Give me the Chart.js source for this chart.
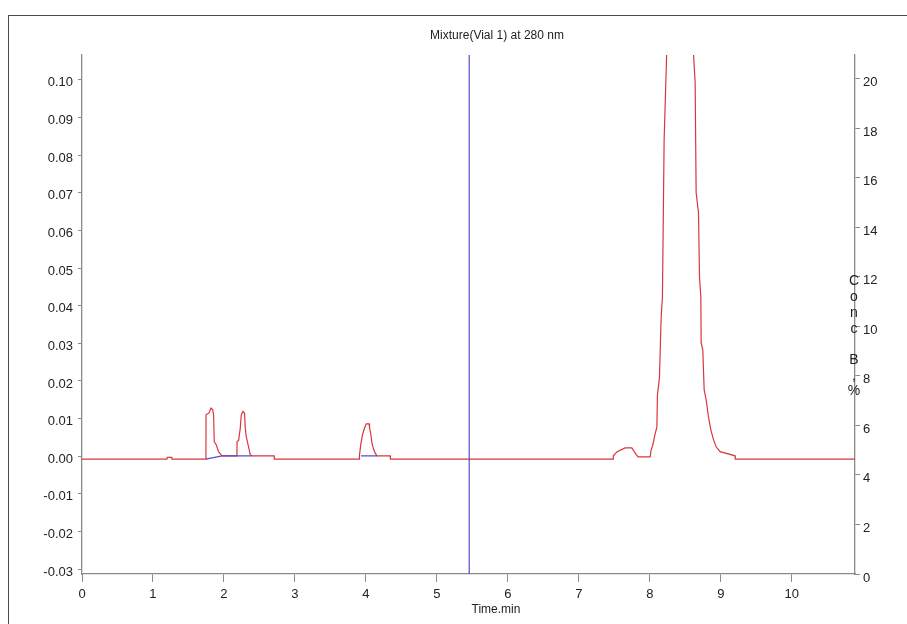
<!DOCTYPE html>
<html lang="en">
  <head>
    <meta charset="UTF-8" />
    <title>Mixture (Vial 1) at 280 nm</title>
    <script src="https://cdn.jsdelivr.net/npm/chart.js@4.4.1/dist/chart.umd.min.js"></script>
    <style>
      html,
      body {
        margin: 0;
        padding: 0;
        background: #ffffff;
        overflow: hidden;
      }

      .frame {
        position: absolute;
        left: 8px;
        top: 15px;
        width: 1000px;
        height: 1000px;
        border: 1px solid #4a4a4a;
      }

      .chart-wrapper {
        position: absolute;
        left: 0;
        top: 0;
        width: 907px;
        height: 624px;
      }
    </style>
  </head>
  <body>
    <div class="frame"></div>
    <div class="chart-wrapper">
      <canvas id="chromChart"></canvas>
    </div>

    <script>
      // axis ticks
      const timeTicks = [0, 1, 2, 3, 4, 5, 6, 7, 8, 9, 10];
      const auTicks = [-0.03, -0.02, -0.01, 0, 0.01, 0.02, 0.03, 0.04, 0.05, 0.06, 0.07, 0.08, 0.09, 0.1];
      const concTicks = [0, 2, 4, 6, 8, 10, 12, 14, 16, 18, 20];

      // detector trace at 280 nm (time in min, absorbance in AU)
      const traceTime = [
        0, 1.197, 1.2, 1.265, 1.268,
        1.746, 1.747, 1.79, 1.817, 1.84, 1.854, 1.863, 1.892, 1.924, 1.958, 1.972,
        2.183, 2.184, 2.206, 2.23, 2.244, 2.268, 2.29, 2.3, 2.314, 2.333, 2.356, 2.37, 2.394,
        2.708, 2.71,
        3.906, 3.908, 3.93, 3.952, 3.98, 4.004, 4.046, 4.051, 4.07, 4.085, 4.107, 4.131, 4.155,
        4.342, 4.345,
        7.483, 7.485, 7.54, 7.65, 7.746, 7.807, 7.835, 8.004,
        8.018, 8.042, 8.065, 8.099, 8.107, 8.135, 8.155, 8.163, 8.177, 8.201, 8.245, 8.42,
        8.6, 8.638, 8.652, 8.685, 8.699, 8.718, 8.723, 8.746, 8.765, 8.793, 8.825, 8.859, 8.896, 8.934, 8.99,
        9.2, 9.203, 10.89
      ];
      const traceAU = [
        -0.0008, -0.0008, -0.0003, -0.0003, -0.0008,
        -0.0008, 0.011, 0.0115, 0.0128, 0.0124, 0.011, 0.0039, 0.003, 0.0012, 0.0004, 0.0001,
        0.0001, 0.0039, 0.0042, 0.0075, 0.011, 0.0119, 0.0114, 0.0075, 0.0052, 0.0036, 0.0017, 0.0004, 0.0001,
        0.0001, -0.0008,
        -0.0008, 0.0001, 0.0035, 0.0057, 0.0075, 0.0086, 0.0086, 0.0075, 0.0057, 0.0035, 0.0019, 0.0008, 0.0001,
        0.0001, -0.0008,
        -0.0008, 0.0001, 0.0012, 0.0022, 0.0022, 0.0004, -0.0002, -0.0002,
        0.0017, 0.003, 0.0052, 0.0078, 0.0163, 0.0208, 0.0344, 0.0381, 0.0423, 0.0841, 0.112, 0.14,
        0.112, 0.0992, 0.07, 0.0647, 0.0477, 0.0423, 0.0301, 0.0282, 0.0176, 0.015, 0.0105, 0.007, 0.0044, 0.0025, 0.0012,
        0.0001, -0.0008, -0.0008
      ];

      // integration baselines (null = gap)
      const baseTime = [1.746, 1.972, 2.394, null, 3.93, 4.155, null, 7.483, 8.99];
      const baseAU = [-0.0008, 0.0001, 0.0001, null, 0.0001, 0.0001, null, 0.0000, 0.0000];

      // injection / event marker
      const markerTime = 5.455;

      const xMin = 0, xMax = 10.89;
      const yMin = -0.0313, yMax = 0.1066;
      const y1Min = 0, y1Max = 20.95;

      const toPoints = (xs, ys) =>
        xs.map((x, i) => (x === null ? { x: NaN, y: null } : { x: x, y: ys[i] }));

      const FONT = "'Liberation Sans', Arial, sans-serif";

      // title, axis label and stacked right-axis label
      const textPlugin = {
        id: "textPlugin",
        afterDraw(chart) {
          const ctx = chart.ctx;
          ctx.save();
          ctx.fillStyle = "#222";
          ctx.textAlign = "center";
          ctx.textBaseline = "middle";
          ctx.font = "12px " + FONT;
          ctx.fillText("Mixture(Vial 1) at 280 nm", 497, 36);
          ctx.fillText("Time.min", 496, 610);
          ctx.font = "14px " + FONT;
          const letters = ["C", "o", "n", "c", "B", ",", "%"];
          const ys = [281, 297, 313, 329, 360, 376, 391];
          letters.forEach((ch, i) => ctx.fillText(ch, 854, ys[i]));
          ctx.restore();
        },
      };

      const setTicks = (list) => (scale) => {
        scale.ticks = list.map((v) => ({ value: v }));
      };

      new Chart(document.getElementById("chromChart").getContext("2d"), {
        type: "line",
        data: {
          datasets: [
            {
              label: "Baseline",
              data: toPoints(baseTime, baseAU),
              borderColor: "#5050c8",
              borderWidth: 1.2,
              pointRadius: 0,
              spanGaps: false,
              yAxisID: "y",
            },
            {
              label: "Event",
              data: [
                { x: markerTime, y: yMin },
                { x: markerTime, y: yMax },
              ],
              borderColor: "#5050c8",
              borderWidth: 1.2,
              pointRadius: 0,
              yAxisID: "y",
            },
            {
              label: "280 nm",
              data: toPoints(traceTime, traceAU),
              borderColor: "#d8363a",
              borderWidth: 1.2,
              pointRadius: 0,
              tension: 0,
              yAxisID: "y",
            },
          ],
        },
        options: {
          responsive: true,
          maintainAspectRatio: false,
          animation: false,
          parsing: false,
          layout: { padding: { top: 55, left: 0, right: 0, bottom: 0 } },
          plugins: {
            legend: { display: false },
            title: { display: false },
            tooltip: { enabled: false },
          },
          scales: {
            x: {
              type: "linear",
              position: "bottom",
              min: xMin,
              max: xMax,
              afterBuildTicks: setTicks(timeTicks),
              afterFit(scale) {
                scale.height = 50;
              },
              border: { color: "#8a8a8a", width: 1.3 },
              grid: {
                drawOnChartArea: false,
                drawTicks: true,
                tickLength: 8,
                color: "#8a8a8a",
              },
              ticks: {
                color: "#222",
                font: { family: FONT, size: 13 },
                padding: 5,
                maxRotation: 0,
                callback: (v) => String(v),
              },
            },
            y: {
              type: "linear",
              position: "left",
              min: yMin,
              max: yMax,
              afterBuildTicks: setTicks(auTicks),
              afterFit(scale) {
                scale.width = 82;
              },
              border: { color: "#8a8a8a", width: 1.3 },
              grid: {
                drawOnChartArea: false,
                drawTicks: true,
                tickLength: 4,
                color: "#8a8a8a",
              },
              ticks: {
                color: "#222",
                font: { family: FONT, size: 13 },
                padding: 5,
                labelOffset: 3,
                callback: (v) => v.toFixed(2),
              },
            },
            y1: {
              type: "linear",
              position: "right",
              min: y1Min,
              max: y1Max,
              afterBuildTicks: setTicks(concTicks),
              afterFit(scale) {
                scale.width = 52;
              },
              border: { color: "#8a8a8a", width: 1.3 },
              grid: {
                drawOnChartArea: false,
                drawTicks: true,
                tickLength: 5,
                color: "#8a8a8a",
              },
              ticks: {
                color: "#222",
                font: { family: FONT, size: 13 },
                padding: 3,
                labelOffset: 4,
                callback: (v) => String(v),
              },
            },
          },
        },
        plugins: [textPlugin],
      });
    </script>
  </body>
</html>
